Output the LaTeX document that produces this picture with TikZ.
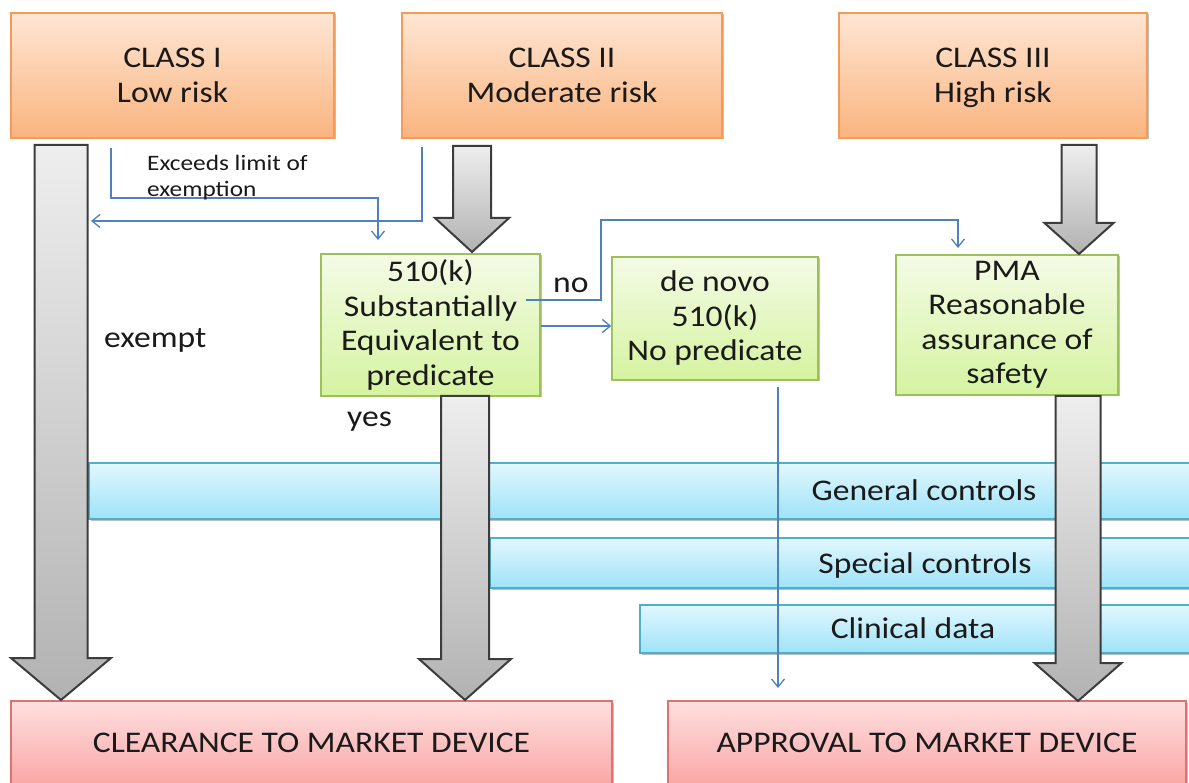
\documentclass[tikz,border=0pt]{standalone}
\usepackage{fontspec}
\setmainfont{Carlito}[FakeStretch=1.12]
\newfontfamily\notefont{Carlito}[FakeStretch=1.15]
\usetikzlibrary{arrows.meta,shadows}

\definecolor{txt}{HTML}{1A1A1A}
\definecolor{orT}{HTML}{FEE6D4}
\definecolor{orB}{HTML}{FAB47F}
\definecolor{orE}{HTML}{F59A57}
\definecolor{grT}{HTML}{F4FBE6}
\definecolor{grB}{HTML}{D5F3A0}
\definecolor{grE}{HTML}{9DC15A}
\definecolor{blT}{HTML}{E2F7FE}
\definecolor{blB}{HTML}{9EE3F8}
\definecolor{blE}{HTML}{4EAFC8}
\definecolor{pkT}{HTML}{FEDFDF}
\definecolor{pkB}{HTML}{FBA6A6}
\definecolor{pkE}{HTML}{DB7370}
\definecolor{gaT}{HTML}{EEEEEE}
\definecolor{gaB}{HTML}{B2B2B2}
\definecolor{gaE}{HTML}{3C3C3C}
\definecolor{flowc}{HTML}{4F81BD}

\newcommand\bigtext{\fontsize{30}{34.5}\selectfont}
\newcommand\notetext{\notefont\fontsize{22}{26.5}\selectfont}
% a line whose descenders do not count towards the node height
\newcommand\nodepth[1]{\raisebox{0pt}[\height][0pt]{#1}}

\tikzset{
  box/.style={draw, line width=1.3pt, inner sep=0pt, align=center,
    font=\bigtext, text=txt,
    drop shadow={shadow xshift=1.5pt, shadow yshift=-1.5pt, opacity=0.25, fill=black}},
  classbox/.style={box, draw=orE, top color=orT, bottom color=orB, minimum height=125},
  testbox/.style={box, draw=grE, top color=grT, bottom color=grB},
  bar/.style={box, draw=blE, top color=blT, bottom color=blB},
  outcome/.style={box, draw=pkE, top color=pkT, bottom color=pkB, minimum height=84.6},
  label/.style={inner sep=0pt, font=\bigtext, text=txt, anchor=base west},
  barlabel/.style={inner sep=0pt, font=\bigtext, text=txt, anchor=base},
  fat/.style={draw=gaE, line width=2pt, line join=miter, top color=gaT, bottom color=gaB},
  flow/.style={draw=flowc, line width=1.3pt, -{Straight Barb[length=8pt,width=13pt]}},
}

% broad grey arrow: centre x, top, start of head, tip, half shaft width, half head width
\newcommand\fatarrow[6]{%
  \draw[fat] (#1-#5,#2) -- (#1+#5,#2) -- (#1+#5,#3) -- (#1+#6,#3) -- (#1,#4)
    -- (#1-#6,#3) -- (#1-#5,#3) -- cycle;}

\begin{document}
\begin{tikzpicture}[x=1pt, y=-1pt]
\useasboundingbox (0,0) rectangle (1189,783);
\clip (0,0) rectangle (1189,783);
\fill[white] (0,0) rectangle (1189,783);

% control bands
\node[bar, minimum width=1111, minimum height=56] (general) at (644.5,491) {};
\node[bar, minimum width=710, minimum height=50] (special) at (845,563) {};
\node[bar, minimum width=560, minimum height=48] (clinical) at (920,629) {};

% outcomes
\node[outcome, minimum width=601] (clear) at (311.5,743.3) {CLEARANCE TO MARKET DEVICE};
\node[outcome, minimum width=518] (approve) at (927,743.3) {APPROVAL TO MARKET DEVICE};

% device classes
\node[classbox, minimum width=323] (c1) at (172.5,75.5) {CLASS I\\Low risk};
\node[classbox, minimum width=320] (c2) at (562,75.5) {CLASS II\\Moderate risk};
\node[classbox, minimum width=308] (c3) at (993,75.5) {CLASS III\\\nodepth{High risk}};

% submission routes
\node[testbox, minimum width=219, minimum height=142] (k510) at (430.5,325)
  {510(k)\\Substantially\\Equivalent to\\predicate};
\node[testbox, minimum width=206, minimum height=123] (denovo) at (715,318.5)
  {de novo\\510(k)\\No predicate};
\node[testbox, minimum width=222, minimum height=140] (pma) at (1007,325)
  {PMA\\Reasonable\\assurance of\\safety};

% broad grey arrows
\fatarrow{61}{145}{658}{700}{26.5}{50}
\fatarrow{472}{146}{218}{252}{19}{37}
\fatarrow{465}{396}{659}{700}{24}{46}
\fatarrow{1079}{145}{223}{254}{17.5}{34.5}
\fatarrow{1078}{396}{663}{701}{22.5}{43.5}

% thin routing lines
\coordinate (x1) at (111,148);
\coordinate (k510in) at (378,240);
\draw[flow] (x1) |- (k510in |- 0,198) -- (k510in);
\coordinate (x2) at (422,147);
\coordinate (exin) at (91,221);
\draw[flow] (x2) |- (exin);
\coordinate (nostart) at (526,300);
\coordinate (pmain) at (958,248);
\draw[flow] (nostart) -- (601,300) |- (pmain |- 0,220) -- (pmain);
\draw[flow] (k510.east |- 0,326) -- (denovo.west |- 0,326);
\coordinate (dnout) at (778,387);
\coordinate (dnend) at (778,688);
\draw[flow] (dnout) -- (dnend);

% labels
\node[inner sep=0pt, font=\notetext, text=txt, align=left, anchor=base west]
  (exceeds) at (147,197) {Exceeds limit of\\exemption};
\node[label] (exempt) at (104,348) {exempt};
\node[label] (yes) at (347,427) {yes};
\node[label] (no) at (553,293) {no};
\node[barlabel] (glab) at (924,500) {General controls};
\node[barlabel] (slab) at (925,573) {Special controls};
\node[barlabel] (clab) at (913,638) {Clinical data};
\end{tikzpicture}
\end{document}
